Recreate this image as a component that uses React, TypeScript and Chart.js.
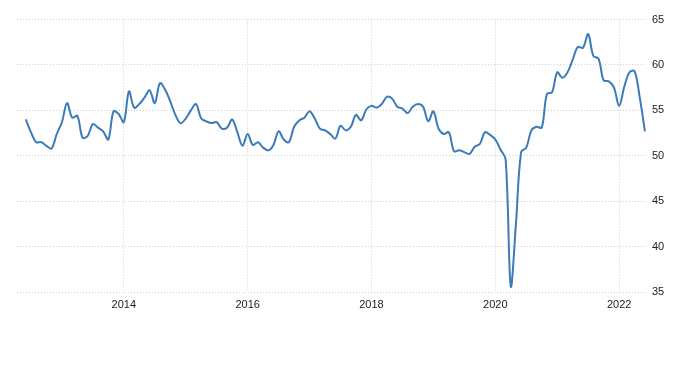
import React, { useEffect, useRef } from "react";
import { Chart, registerables } from "chart.js";

Chart.register(...registerables);

// Monthly series, June 2012 .. June 2022
const startYear = 2012;
const startMonth = 6;
const values = [
  54.0, 52.6, 51.5, 51.5, 51.1, 50.8, 52.4, 53.7, 55.8, 54.2, 54.4, 52.0,
  52.2, 53.5, 53.1, 52.7, 51.8, 54.9, 54.6, 53.7, 57.1, 55.3, 55.7, 56.4,
  57.2, 55.8, 58.0, 57.3, 56.0, 54.5, 53.6, 54.1, 55.0, 55.7, 54.1, 53.8,
  53.6, 53.7, 53.0, 53.1, 54.0, 52.6, 51.1, 52.4, 51.2, 51.5, 50.9, 50.6,
  51.2, 52.7, 51.8, 51.5, 53.2, 53.9, 54.2, 54.9, 54.1, 53.0, 52.8, 52.4,
  51.9, 53.3, 52.8, 53.2, 54.5, 53.9, 55.1, 55.5, 55.3, 55.7, 56.5, 56.3,
  55.4, 55.2, 54.7, 55.4, 55.7, 55.4, 53.8, 54.9, 53.0, 52.4, 52.6, 50.5,
  50.6, 50.4, 50.2, 51.0, 51.3, 52.6, 52.3, 51.8, 50.7, 49.6, 35.6, 42.5,
  50.4, 50.9, 52.8, 53.2, 53.1, 56.8, 57.0, 59.2, 58.6, 59.2, 60.6, 62.0,
  61.9, 63.4, 61.0, 60.7, 58.3, 58.2, 57.5, 55.5, 57.6, 59.2, 59.3, 56.4,
  52.7,
];
const tickYears = [2014, 2016, 2018, 2020, 2022];
const yTicks = [35, 40, 45, 50, 55, 60, 65];

const monthIndex = (y: number, m: number) => (y - startYear) * 12 + (m - startMonth);
const indexToYear = (i: number) => startYear + Math.floor((i + startMonth - 1) / 12);

export default function App() {
  const ref = useRef<HTMLCanvasElement | null>(null);

  useEffect(() => {
    if (!ref.current) return;
    const points = values.map((v, i) => ({ x: i, y: v }));
    const gridColor = "#cfcfcf";
    const font = { family: "'Liberation Sans', Arial, sans-serif", size: 11 };
    const chart = new Chart(ref.current, {
      type: "line",
      data: {
        datasets: [
          {
            data: points,
            borderColor: "#3b7cb8",
            borderWidth: 2,
            pointRadius: 0,
            tension: 0.35,
            fill: false,
          },
        ],
      },
      options: {
        animation: false,
        responsive: false,
        maintainAspectRatio: false,
        layout: { padding: { left: 9, right: 5, top: 11, bottom: 0 } },
        plugins: { legend: { display: false }, tooltip: { enabled: false } },
        scales: {
          x: {
            type: "linear",
            min: -1.7,
            max: 120.4,
            afterBuildTicks: (scale: any) => {
              scale.ticks = tickYears.map((y) => ({ value: monthIndex(y, 1) }));
            },
            afterFit: (scale: any) => {
              scale.height = 36;
            },
            grid: { color: gridColor, lineWidth: 1, drawTicks: false },
            border: { display: false, dash: [1, 2] },
            ticks: {
              padding: 6,
              color: "#222",
              font,
              maxRotation: 0,
              autoSkip: false,
              callback: (v: any) => String(indexToYear(Number(v))),
            },
          },
          y: {
            position: "right",
            min: 35,
            max: 65,
            afterBuildTicks: (scale: any) => {
              scale.ticks = yTicks.map((v) => ({ value: v }));
            },
            afterFit: (scale: any) => {
              scale.width = 40;
            },
            grid: { color: gridColor, lineWidth: 1, drawTicks: false },
            border: { display: false, dash: [1, 2] },
            ticks: {
              padding: 5,
              color: "#222",
              font,
              callback: (v: any) => String(v),
            },
          },
        },
      },
    });
    return () => chart.destroy();
  }, []);

  return (
    <div style={{ width: 684, height: 320 }}>
      <canvas ref={ref} width={684} height={320} style={{ width: 684, height: 320 }} />
    </div>
  );
}
